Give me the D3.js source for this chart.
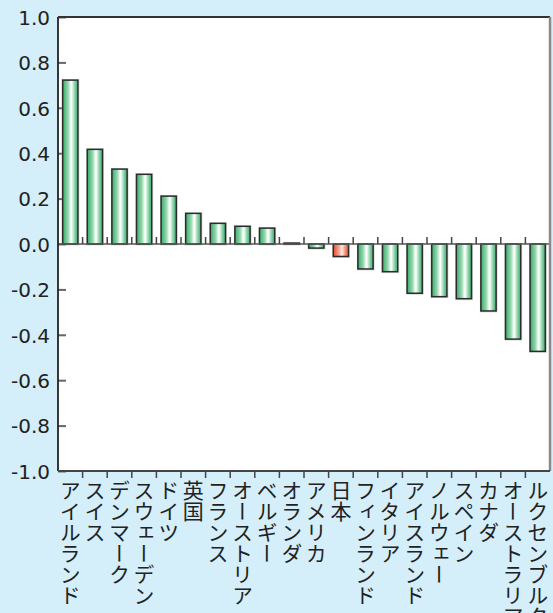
<!DOCTYPE html>
<html>
<head>
<meta charset="utf-8">
<script src="https://cdn.jsdelivr.net/npm/d3@7/dist/d3.min.js"></script>
<style>
  html, body { margin: 0; padding: 0; background: #d4eefa; }
  svg { display: block; }
</style>
</head>
<body>
<svg id="chart" width="553" height="613"></svg>
<script>
// Countries in display order and their values
const countries = ["アイルランド", "スイス", "デンマーク", "スウェーデン", "ドイツ", "英国", "フランス",
  "オーストリア", "ベルギー", "オランダ", "アメリカ", "日本", "フィンランド", "イタリア",
  "アイスランド", "ノルウェー", "スペイン", "カナダ", "オーストラリア", "ルクセンブルク"];
const values = [0.722, 0.417, 0.330, 0.307, 0.211, 0.135, 0.091, 0.078, 0.070, 0.004,
  -0.018, -0.055, -0.110, -0.122, -0.217, -0.232, -0.241, -0.295, -0.419, -0.473];
const highlight = ["日本"];
const yTicks = [-1.0, -0.8, -0.6, -0.4, -0.2, 0.0, 0.2, 0.4, 0.6, 0.8, 1.0];

const data = countries.map((c, i) => ({ name: c, value: values[i] }));

const svg = d3.select("#chart");
const plotL = 58, plotR = 550, plotT = 17, plotB = 471;

const x = d3.scaleBand().domain(countries).range([plotL, plotR])
  .paddingInner(0.38).paddingOuter(0.19);
const y = d3.scaleLinear().domain([-1, 1]).range([plotB, plotT]);

// gradients for the bars
const defs = svg.append("defs");
function grad(id, stops) {
  const g = defs.append("linearGradient").attr("id", id)
    .attr("x1", "0").attr("x2", "1").attr("y1", "0").attr("y2", "0");
  stops.forEach(([o, c]) => g.append("stop").attr("offset", o).attr("stop-color", c));
}
grad("gGreen", [[0, "#3fa66b"], [0.12, "#56bb80"], [0.35, "#95d6ae"], [0.5, "#e4f6ea"],
  [0.58, "#ffffff"], [0.68, "#c5ead3"], [0.85, "#6ec795"], [1, "#48ad74"]]);
grad("gRed", [[0, "#e0502f"], [0.15, "#ee6e52"], [0.38, "#f6a792"], [0.55, "#fde6de"],
  [0.62, "#fbd8cc"], [0.8, "#f28b72"], [1, "#e45a3c"]]);

// plot area
svg.append("rect").attr("x", plotL).attr("y", plotT)
  .attr("width", plotR - plotL).attr("height", plotB - plotT).attr("fill", "#ffffff");

// y axis ticks (inside)
const yAxis = d3.axisLeft(y).tickValues(yTicks).tickSize(-8).tickPadding(8)
  .tickFormat(d3.format(".1f"));
const gy = svg.append("g").attr("transform", `translate(${plotL},0)`).call(yAxis);
gy.select(".domain").remove();
gy.selectAll(".tick line").attr("stroke", "#666").attr("stroke-width", 2);
gy.selectAll(".tick text")
  .attr("font-family", "'DejaVu Sans', sans-serif")
  .attr("font-size", 20).attr("fill", "#222").attr("dy", "0.36em")
  .text(d => d3.format(".1f")(d).replace("−", "-"));

// bar shadows
svg.append("g").selectAll("rect").data(data).join("rect")
  .attr("x", d => x(d.name) - 1)
  .attr("y", d => y(Math.max(0, d.value)) - 1)
  .attr("width", x.bandwidth() + 2.5)
  .attr("height", d => Math.abs(y(d.value) - y(0)) + 2.5)
  .attr("fill", "#bdbdbd").attr("opacity", 0.55);

// bars
svg.append("g").selectAll("rect").data(data).join("rect")
  .attr("x", d => x(d.name))
  .attr("y", d => y(Math.max(0, d.value)))
  .attr("width", x.bandwidth())
  .attr("height", d => Math.abs(y(d.value) - y(0)))
  .attr("fill", d => highlight.includes(d.name) ? "url(#gRed)" : "url(#gGreen)")
  .attr("stroke", "#2b2b2b").attr("stroke-width", 1.5);

// zero line with upward ticks at category boundaries
const bounds = d3.range(1, countries.length).map(i => x.range()[0] + i * x.step());
svg.append("line").attr("x1", plotL).attr("x2", plotR)
  .attr("y1", y(0)).attr("y2", y(0)).attr("stroke", "#555").attr("stroke-width", 1.5);
svg.append("g").selectAll("line").data(bounds).join("line")
  .attr("x1", d => d).attr("x2", d => d)
  .attr("y1", y(0)).attr("y2", y(0) - 7)
  .attr("stroke", "#444").attr("stroke-width", 1.5);

// frame
svg.append("line").attr("x1", plotL).attr("x2", plotL).attr("y1", plotT).attr("y2", plotB)
  .attr("stroke", "#222").attr("stroke-width", 1.8);
svg.append("line").attr("x1", plotL).attr("x2", plotR).attr("y1", plotT).attr("y2", plotT)
  .attr("stroke", "#333").attr("stroke-width", 1.8);
svg.append("line").attr("x1", plotR).attr("x2", plotR).attr("y1", plotT).attr("y2", plotB)
  .attr("stroke", "#8a8a8a").attr("stroke-width", 2.5);
svg.append("line").attr("x1", plotL).attr("x2", plotR).attr("y1", plotB).attr("y2", plotB)
  .attr("stroke", "#444").attr("stroke-width", 1.8);

// bottom ticks at category boundaries
svg.append("g").selectAll("line").data(bounds).join("line")
  .attr("x1", d => d).attr("x2", d => d)
  .attr("y1", plotB).attr("y2", plotB + 7)
  .attr("stroke", "#444").attr("stroke-width", 1.5);

// vertical category labels
svg.append("g").selectAll("text").data(data).join("text")
  .attr("x", d => x(d.name) + x.bandwidth() / 2)
  .attr("y", plotB + 9)
  .attr("font-family", "'Noto Sans CJK JP', sans-serif")
  .attr("font-size", 21)
  .attr("fill", "#222")
  .style("writing-mode", "vertical-rl")
  .style("text-orientation", "upright")
  .text(d => d.name);
</script>
</body>
</html>
